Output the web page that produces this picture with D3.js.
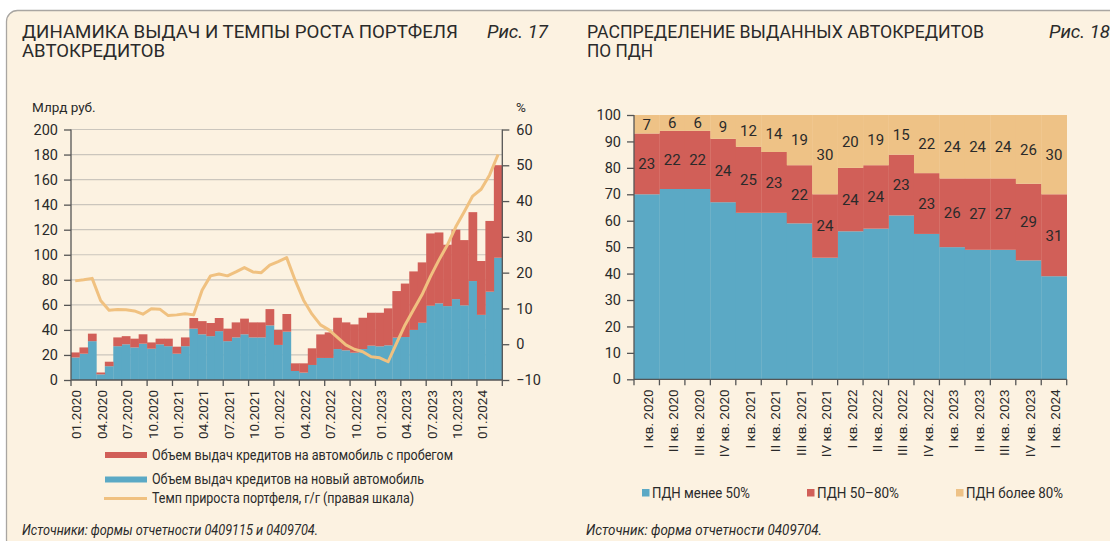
<!DOCTYPE html>
<html lang="ru">
  <head>
    <meta charset="UTF-8" />
    <title>Автокредиты</title>
    <style>
      body { margin: 0; background: #fff; }
      svg { display: block; font-family: Roboto, "Open Sans", sans-serif; }
    </style>
  </head>
  <body>
    <div class="chart"></div>

    <script src="https://d3js.org/d3.v7.min.js"></script>

    <script>
      // данные рис. 17 (млрд руб., %) =================================================================
      const newCars = [18, 21, 31, 4.5, 11, 27, 28.5, 26, 29, 25, 28.5, 27, 21, 27, 41, 36.5, 35, 39, 31, 34, 36.5, 34, 34, 43.6, 28,
        38.6, 7.2, 5.9, 12, 17.6, 17.6, 24.7, 23.7, 21.8, 24.7, 27.4, 26.9, 27.7, 33.8, 34.3, 40, 45.7, 59.3, 61.2, 59, 64.6, 59.6, 79, 52, 70.5, 97.6];
      const usedCars = [4, 5, 6, 1.5, 3.6, 7, 6.5, 7, 7.5, 5, 4.5, 6, 5.6, 7, 8.5, 10.5, 10.5, 10.5, 10, 12, 12.5, 12, 12, 13, 12,
        14.1, 6.1, 7.4, 13.3, 18.8, 20.4, 25, 22.3, 22.6, 25, 26.3, 26.8, 29.5, 37.2, 42.7, 46.7, 48.2, 57.7, 56.6, 49, 55.4, 52.1, 55, 43, 56.5, 73.9];
      const growth = [17.7, 18.0, 18.4, 12.2, 9.5, 9.7, 9.6, 9.3, 8.4, 9.9, 9.8, 8.0, 8.2, 8.5, 8.2, 15.1, 19.1, 19.6, 19.1, 20.2, 21.4, 20.2, 20.0, 22.1, 23.1,
        24.2, 17.9, 12.3, 8.4, 5.4, 4.0, 1.9, -0.2, -1.4, -2.1, -3.5, -3.8, -4.9, 0.3, 5.4, 9.6, 13.8, 18.9, 23.5, 27.7, 32.8, 37.0, 41.4, 43.3, 47.3, 53.0];
      const leftTicks = [0, 20, 40, 60, 80, 100, 120, 140, 160, 180, 200];
      const rightTicks = [-10, 0, 10, 20, 30, 40, 50, 60];

      // данные рис. 18 (%) =================================================================
      const quarters = ["I кв. 2020", "II кв. 2020", "III кв. 2020", "IV кв. 2020", "I кв. 2021", "II кв. 2021", "III кв. 2021", "IV кв. 2021",
        "I кв. 2022", "II кв. 2022", "III кв. 2022", "IV кв. 2022", "I кв. 2023", "II кв. 2023", "III кв. 2023", "IV кв. 2023", "I кв. 2024"];
      const pdnLow = [70, 72, 72, 67, 63, 63, 59, 46, 56, 57, 62, 55, 50, 49, 49, 45, 39];
      const pdnMid = [23, 22, 22, 24, 25, 23, 22, 24, 24, 24, 23, 23, 26, 27, 27, 29, 31];
      const pdnHigh = [7, 6, 6, 9, 12, 14, 19, 30, 20, 19, 15, 22, 24, 24, 24, 26, 30];
      const pctTicks = [0, 10, 20, 30, 40, 50, 60, 70, 80, 90, 100];

      const BLUE = "#5ba9c5";
      const RED = "#d15f58";
      const ORANGE = "#f0c180";
      const TEXT = "#2a2a2a";
      const AXIS = "#555";

      const svg = d3.select(".chart").append("svg").attr("width", 1110).attr("height", 541);

      // подложка
      svg.append("rect")
        .attr("x", 6.5).attr("y", 10.5).attr("width", 1115).attr("height", 540).attr("rx", 11)
        .attr("fill", "#fcf2e1").attr("stroke", "#a9a6a2").attr("stroke-width", 1.3);

      function title(x, lines, widths) {
        lines.forEach((t, i) => {
          svg.append("text")
            .attr("x", x).attr("y", 38 + i * 19)
            .attr("font-size", 17.5).attr("fill", TEXT)
            .attr("textLength", widths[i]).attr("lengthAdjust", "spacingAndGlyphs")
            .text(t);
        });
      }
      function fig(x, t) {
        svg.append("text")
          .attr("x", x).attr("y", 38)
          .attr("font-size", 18).attr("font-style", "italic").attr("fill", TEXT)
          .attr("textLength", 61).attr("lengthAdjust", "spacingAndGlyphs")
          .text(t);
      }

      title(22, ["ДИНАМИКА ВЫДАЧ И ТЕМПЫ РОСТА ПОРТФЕЛЯ", "АВТОКРЕДИТОВ"], [436, 143]);
      fig(487, "Рис. 17");
      title(587, ["РАСПРЕДЕЛЕНИЕ ВЫДАННЫХ АВТОКРЕДИТОВ", "ПО ПДН"], [397, 66]);
      fig(1049, "Рис. 18");

      // рис. 17 =================================================================
      const months = d3.timeMonth.range(new Date(2020, 0, 1), new Date(2024, 3, 1));
      const fmt = d3.timeFormat("%m.%Y");

      const x1 = d3.scaleBand().domain(months.map(fmt)).range([71, 502.3]).padding(0);
      const yL = d3.scaleLinear().domain([0, 200]).range([380, 129.5]);
      const yR = d3.scaleLinear().domain([-10, 60]).range([380, 129.5]);

      const g1 = svg.append("g");

      // сетка
      g1.append("g").selectAll("line")
        .data(leftTicks.slice(1))
        .enter()
        .append("line")
        .attr("x1", 71).attr("x2", 502.3)
        .attr("y1", (d) => yL(d)).attr("y2", (d) => yL(d))
        .attr("stroke", "#cbc6bd").attr("stroke-width", 1.2);

      const rows = months.map((m, i) => ({ key: fmt(m), nw: newCars[i], used: usedCars[i], g: growth[i] }));
      const stack1 = d3.stack().keys(["nw", "used"])(rows);

      g1.append("g").selectAll("g")
        .data(stack1)
        .enter()
        .append("g")
        .attr("fill", (d, i) => (i === 0 ? BLUE : RED))
        .selectAll("rect")
        .data((d) => d)
        .enter()
        .append("rect")
        .attr("x", (d) => x1(d.data.key))
        .attr("width", x1.bandwidth() + 0.3)
        .attr("y", (d) => yL(d[1]))
        .attr("height", (d) => yL(d[0]) - yL(d[1]));

      const line = d3.line()
        .x((d) => x1(d.key) + x1.bandwidth() / 2)
        .y((d) => yR(d.g));

      g1.append("path")
        .datum(rows)
        .attr("d", line)
        .attr("fill", "none")
        .attr("stroke", ORANGE)
        .attr("stroke-width", 3)
        .attr("stroke-linejoin", "round");

      // оси
      const axL = g1.append("g").attr("transform", "translate(71,0)")
        .call(d3.axisLeft(yL).tickValues(leftTicks).tickSize(7).tickPadding(6));
      const axR = g1.append("g").attr("transform", "translate(502.3,0)")
        .call(d3.axisRight(yR).tickValues(rightTicks).tickSize(7).tickPadding(7));

      const tickKeys = months.filter((m) => m.getMonth() % 3 === 0).map(fmt);
      const axB = g1.append("g").attr("transform", "translate(0,380)")
        .call(d3.axisBottom(x1).tickValues(tickKeys).tickSize(6).tickPadding(4));
      axB.selectAll(".tick line").attr("transform", `translate(${-x1.bandwidth() / 2},0)`);
      axB.append("line").attr("x1", 502.3).attr("x2", 502.3).attr("y1", 0).attr("y2", 6).attr("stroke", AXIS);
      axB.selectAll(".tick text")
        .attr("transform", "translate(1.5,0) rotate(-90)")
        .attr("text-anchor", "end")
        .attr("x", -10).attr("y", 0).attr("dy", "0.35em")
        .attr("font-size", 13.5);

      [axL, axR, axB].forEach((a) => {
        a.selectAll("path, line").attr("stroke", AXIS).attr("stroke-width", 1.3);
        a.selectAll("text").attr("fill", TEXT).attr("font-family", "Roboto, sans-serif");
      });
      axL.selectAll("text").attr("font-size", 14.5);
      axR.selectAll("text").attr("font-size", 14.5);
      axL.select(".domain").attr("d", "M0,129.5V380");
      axR.select(".domain").attr("d", "M0,129.5V380");
      axB.select(".domain").attr("d", "M71,0H502.3");

      g1.append("text").attr("x", 32).attr("y", 112).attr("font-size", 13.5).attr("fill", TEXT).text("Млрд руб.");
      g1.append("text").attr("x", 516).attr("y", 112).attr("font-size", 13.5).attr("fill", TEXT).text("%");

      // легенда
      const leg1 = [
        { t: "Объем выдач кредитов на автомобиль с пробегом", c: RED, type: "bar", y: 455, w: 301 },
        { t: "Объем выдач кредитов на новый автомобиль", c: BLUE, type: "bar", y: 479.5, w: 272 },
        { t: "Темп прироста портфеля, г/г (правая шкала)", c: ORANGE, type: "line", y: 498.5, w: 262 },
      ];
      leg1.forEach((d) => {
        if (d.type === "bar") {
          g1.append("rect").attr("x", 105).attr("y", d.y - 3).attr("width", 42).attr("height", 6).attr("fill", d.c);
        } else {
          g1.append("line").attr("x1", 104).attr("x2", 147).attr("y1", d.y).attr("y2", d.y)
            .attr("stroke", d.c).attr("stroke-width", 3);
        }
        g1.append("text").attr("x", 152).attr("y", d.y).attr("dy", "0.35em")
          .attr("font-size", 14).attr("fill", TEXT)
          .attr("textLength", d.w).attr("lengthAdjust", "spacingAndGlyphs")
          .text(d.t);
      });

      g1.append("text").attr("x", 22).attr("y", 530).attr("dy", "0.35em")
        .attr("font-size", 14).attr("font-style", "italic").attr("fill", TEXT)
        .attr("textLength", 296).attr("lengthAdjust", "spacingAndGlyphs")
        .text("Источники: формы отчетности 0409115 и 0409704.");

      // рис. 18 =================================================================
      const x2 = d3.scaleBand().domain(quarters).range([634, 1066.7]).padding(0);
      const y2 = d3.scaleLinear().domain([0, 100]).range([379.3, 115]);

      const g2 = svg.append("g");
      const qRows = quarters.map((q, i) => ({ key: q, low: pdnLow[i], mid: pdnMid[i], high: pdnHigh[i] }));
      const keys2 = ["low", "mid", "high"];
      const colors2 = { low: BLUE, mid: RED, high: "#eec286" };
      const stack2 = d3.stack().keys(keys2)(qRows);

      const layers = g2.append("g").selectAll("g")
        .data(stack2)
        .enter()
        .append("g")
        .attr("fill", (d) => colors2[d.key]);

      layers.selectAll("rect")
        .data((d) => d)
        .enter()
        .append("rect")
        .attr("x", (d) => x2(d.data.key))
        .attr("width", x2.bandwidth() + 0.3)
        .attr("y", (d) => y2(d[1]))
        .attr("height", (d) => y2(d[0]) - y2(d[1]));

      // подписи значений (кроме нижнего слоя)
      g2.append("g").selectAll("g")
        .data(stack2.slice(1))
        .enter()
        .append("g")
        .selectAll("text")
        .data((d) => d)
        .enter()
        .append("text")
        .attr("x", (d) => x2(d.data.key) + x2.bandwidth() / 2)
        .attr("y", (d) => y2((d[0] + d[1]) / 2))
        .attr("dy", "0.35em")
        .attr("text-anchor", "middle")
        .attr("font-size", 15)
        .attr("fill", TEXT)
        .text((d) => d[1] - d[0]);

      const ax2L = g2.append("g").attr("transform", "translate(634,0)")
        .call(d3.axisLeft(y2).tickValues(pctTicks).tickSize(7).tickPadding(6));
      const ax2B = g2.append("g").attr("transform", "translate(0,379.3)")
        .call(d3.axisBottom(x2).tickSize(6).tickPadding(4));
      ax2B.selectAll(".tick line").attr("transform", `translate(${-x2.bandwidth() / 2},0)`);
      ax2B.append("line").attr("x1", 1066.7).attr("x2", 1066.7).attr("y1", 0).attr("y2", 6).attr("stroke", AXIS);
      ax2B.selectAll(".tick text")
        .attr("transform", "translate(1.5,0) rotate(-90)")
        .attr("text-anchor", "end")
        .attr("x", -10).attr("y", 0).attr("dy", "0.35em")
        .attr("font-size", 13.5);

      [ax2L, ax2B].forEach((a) => {
        a.selectAll("path, line").attr("stroke", AXIS).attr("stroke-width", 1.3);
        a.selectAll("text").attr("fill", TEXT).attr("font-family", "Roboto, sans-serif");
      });
      ax2L.selectAll("text").attr("font-size", 14.5);
      ax2L.select(".domain").attr("d", "M0,115V379.3");
      ax2B.select(".domain").attr("d", "M634,0H1066.7");

      const leg2 = [
        { t: "ПДН менее 50%", c: BLUE, x: 642, w: 98 },
        { t: "ПДН 50–80%", c: RED, x: 807, w: 82 },
        { t: "ПДН более 80%", c: "#eec286", x: 956, w: 97 },
      ];
      leg2.forEach((d) => {
        g2.append("rect").attr("x", d.x).attr("y", 489).attr("width", 7.5).attr("height", 7.5).attr("fill", d.c);
        g2.append("text").attr("x", d.x + 10).attr("y", 493).attr("dy", "0.35em")
          .attr("font-size", 14).attr("fill", TEXT)
          .attr("textLength", d.w).attr("lengthAdjust", "spacingAndGlyphs")
          .text(d.t);
      });

      g2.append("text").attr("x", 586).attr("y", 530).attr("dy", "0.35em")
        .attr("font-size", 14).attr("font-style", "italic").attr("fill", TEXT)
        .attr("textLength", 236).attr("lengthAdjust", "spacingAndGlyphs")
        .text("Источник: форма отчетности 0409704.");
    </script>
  </body>
</html>
